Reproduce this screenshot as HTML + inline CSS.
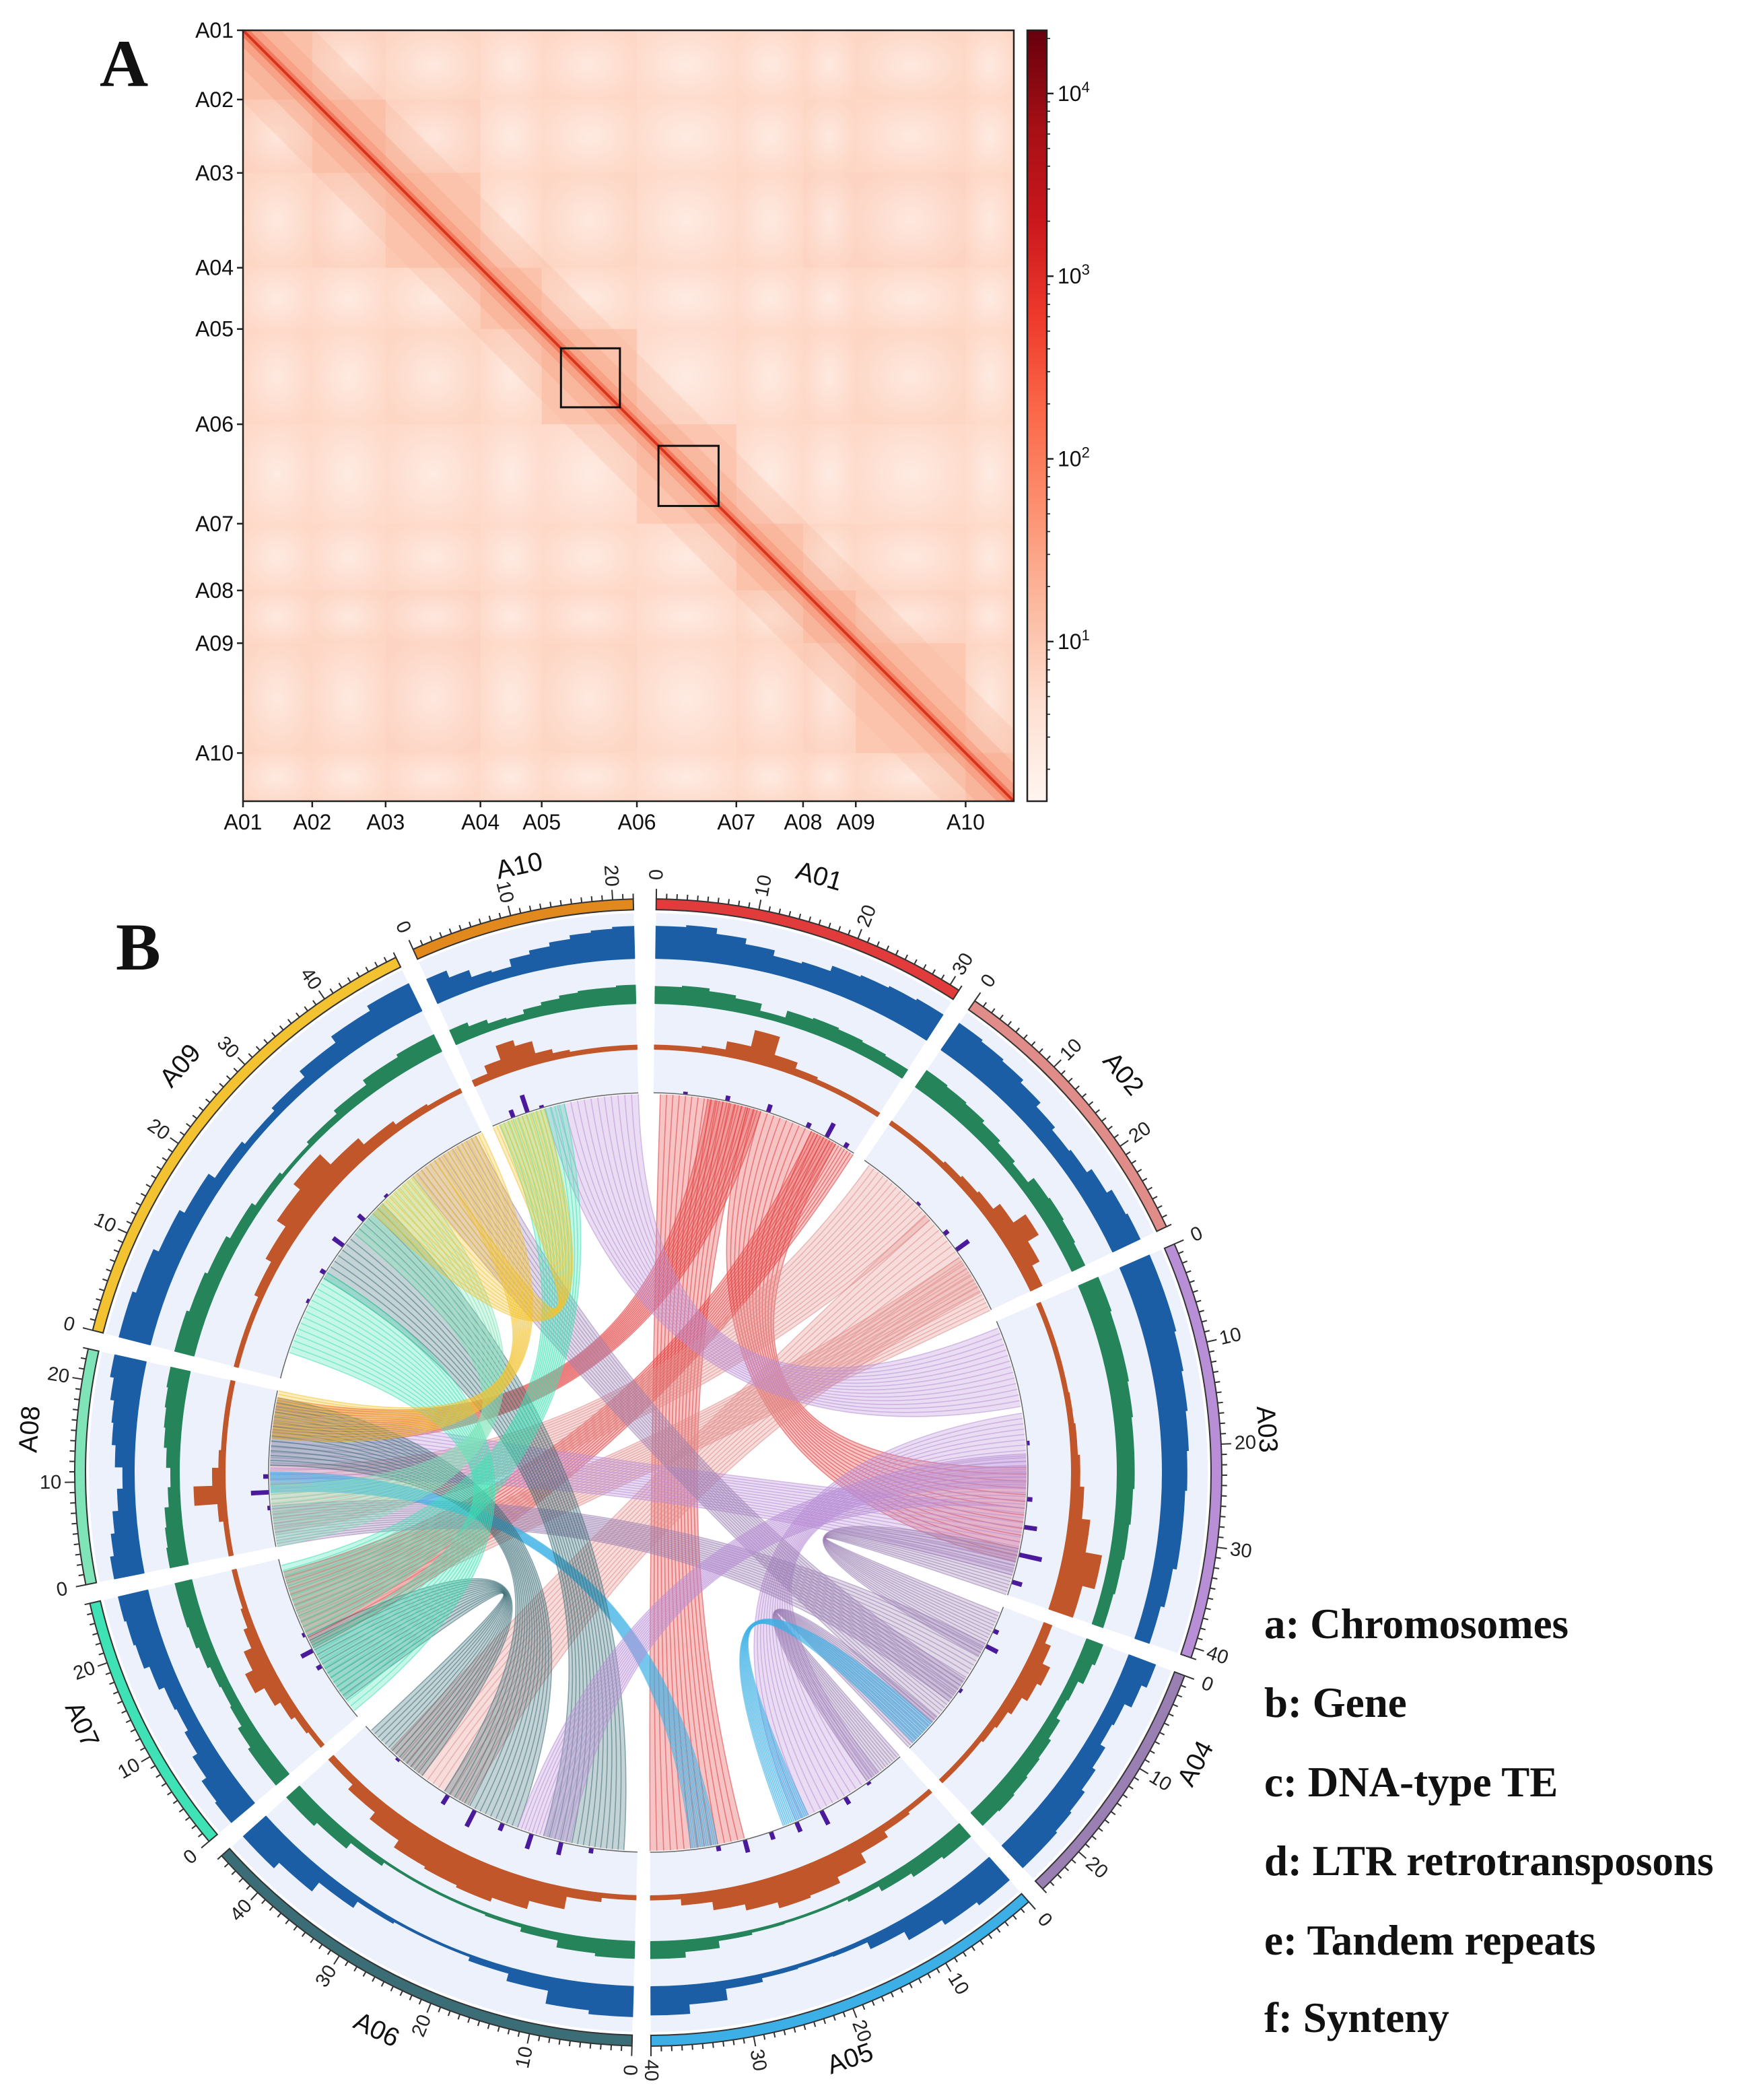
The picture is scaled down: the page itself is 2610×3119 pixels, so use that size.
<!DOCTYPE html>
<html><head><meta charset="utf-8">
<style>
html,body{margin:0;padding:0;background:#fff;}
svg{display:block;}
</style></head>
<body>
<svg id="chart" xmlns="http://www.w3.org/2000/svg" width="2610" height="3119" viewBox="0 0 2610 3119">
<defs>
  <radialGradient id="pillow" cx="0.5" cy="0.5" r="0.6">
    <stop offset="0" stop-color="#fff" stop-opacity="0.45"/>
    <stop offset="0.7" stop-color="#fff" stop-opacity="0.12"/>
    <stop offset="1" stop-color="#fff" stop-opacity="0"/>
  </radialGradient>
  <linearGradient id="cbgrad" x1="0" y1="1" x2="0" y2="0">
    <stop offset="0" stop-color="#fff5f0"/>
    <stop offset="0.125" stop-color="#fee0d2"/>
    <stop offset="0.25" stop-color="#fcbba1"/>
    <stop offset="0.375" stop-color="#fc9272"/>
    <stop offset="0.5" stop-color="#fb6a4a"/>
    <stop offset="0.625" stop-color="#ef3b2c"/>
    <stop offset="0.75" stop-color="#cb181d"/>
    <stop offset="0.875" stop-color="#a50f15"/>
    <stop offset="1" stop-color="#67000d"/>
  </linearGradient>
  <clipPath id="hmclip"><rect x="361" y="45" width="1145" height="1145"/></clipPath>
</defs>
<text x="148" y="128" font-family="Liberation Serif, serif" font-weight="bold" font-size="100" fill="#111">A</text>
<text x="172" y="1440" font-family="Liberation Serif, serif" font-weight="bold" font-size="100" fill="#111">B</text>
<g id="heat"></g>
<g id="cbar"></g>
<g id="circos"></g>
<g id="legend" font-family="Liberation Serif, serif" font-weight="bold" font-size="63" fill="#111">
  <text x="1878" y="2433">a: Chromosomes</text>
  <text x="1878" y="2550">b: Gene</text>
  <text x="1878" y="2668">c: DNA-type TE</text>
  <text x="1878" y="2785">d: LTR retrotransposons</text>
  <text x="1878" y="2903">e: Tandem repeats</text>
  <text x="1878" y="3018">f: Synteny</text>
</g>
</svg>
<script>
// ---------------- Heatmap data ----------------
const hmChroms = ['A01','A02','A03','A04','A05','A06','A07','A08','A09','A10'];
const hmStartFrac = [0, 0.0898, 0.185, 0.308, 0.3875, 0.511, 0.640, 0.7266, 0.795, 0.9375];
const hmLevels = [
 [1.05,0.85,0.80,0.75,0.78,0.74,0.76,0.78,0.80,0.77],
 [0.85,1.05,0.85,0.74,0.76,0.73,0.75,0.80,0.78,0.76],
 [0.80,0.85,1.00,0.76,0.80,0.74,0.77,0.82,0.82,0.78],
 [0.75,0.74,0.76,1.00,0.76,0.72,0.74,0.75,0.76,0.74],
 [0.78,0.76,0.80,0.76,1.00,0.72,0.76,0.78,0.80,0.76],
 [0.74,0.73,0.74,0.72,0.72,0.95,0.74,0.74,0.74,0.73],
 [0.76,0.75,0.77,0.74,0.76,0.74,1.00,0.80,0.78,0.76],
 [0.78,0.80,0.82,0.75,0.78,0.74,0.80,1.05,0.84,0.78],
 [0.80,0.78,0.82,0.76,0.80,0.74,0.78,0.84,1.00,0.80],
 [0.77,0.76,0.78,0.74,0.76,0.73,0.76,0.78,0.80,1.05]
];
const cbTickExp = [1, 2, 3, 4];
const cbTickLabels = ['10', '10', '10', '10'];
const cbTickSup = ['1', '2', '3', '4'];
const boxLo = [0.4125, 0.539];
const boxHi = [0.489, 0.617];

// ---------------- Circos data ----------------
const chrNames = ['A01','A02','A03','A04','A05','A06','A07','A08','A09','A10'];
const chrLen = [31, 29, 41, 25, 40, 45, 26, 23, 48, 22];
const chrColors = ['#e23b3b','#e08d8a','#b88ed6','#9a80b2','#3cb0e6','#3a6d76','#3fe2b4','#7fe4b8','#f2c230','#e2891e'];
const geneVals = [
 [.85,.9,.75,.6,.45,.5,.65,.7,.75,.8],
 [.85,.8,.75,.65,.5,.4,.45,.6,.75,.8],
 [.85,.85,.8,.75,.7,.65,.6,.6,.5,.4],
 [.75,.6,.4,.35,.5,.6,.7,.75,.8,.8],
 [.8,.7,.55,.3,.1,.08,.1,.2,.5,.75],
 [.8,.7,.35,.15,.05,.05,.1,.3,.6,.8],
 [.8,.75,.6,.45,.35,.4,.55,.7,.75,.8],
 [.8,.7,.6,.45,.3,.5,.6,.65,.75,.85],
 [.85,.75,.6,.45,.25,.15,.25,.45,.65,.8],
 [.7,.5,.3,.25,.45,.55,.65,.75,.8,.85]
];
const dnaVals = [
 [.6,.65,.55,.45,.2,.45,.5,.45,.4,.35],
 [.7,.65,.6,.5,.4,.3,.55,.6,.55,.5],
 [.75,.7,.7,.65,.6,.6,.55,.5,.45,.4],
 [.6,.5,.3,.25,.4,.5,.55,.6,.65,.6],
 [.6,.5,.35,.15,.05,.05,.08,.15,.4,.6],
 [.6,.5,.25,.1,.03,.03,.05,.2,.45,.6],
 [.6,.6,.5,.35,.3,.35,.45,.55,.6,.6],
 [.65,.6,.55,.4,.3,.45,.55,.6,.65,.7],
 [.7,.6,.5,.35,.2,.1,.2,.35,.55,.65],
 [.55,.4,.25,.2,.35,.45,.55,.6,.6,.65]
];
const ltrVals = [
 [.1,.1,.15,.35,.75,.3,.15,.1,.1,.1],
 [.1,.1,.1,.15,.2,.25,.45,.8,.5,.3],
 [.1,.1,.1,.12,.15,.2,.3,.5,.9,.6],
 [.2,.35,.55,.45,.3,.2,.15,.1,.1,.1],
 [.1,.15,.3,.55,.7,.75,.6,.45,.25,.1],
 [.1,.2,.5,.7,.8,.75,.7,.5,.3,.15],
 [.1,.15,.25,.4,.65,.45,.25,.15,.1,.1],
 [.1,.1,.2,.75,.3,.15,.1,.1,.1,.1],
 [.1,.1,.2,.35,.6,.8,.45,.25,.15,.1],
 [.15,.35,.7,.55,.25,.15,.1,.1,.1,.1]
];
const tandemVals = [
 [0,.1,0,.2,0,.3,0,.2,.6,.2],
 [0,0,0,.1,0,.2,.6,0,0,0],
 [0,0,0,0,.1,0,.2,.5,.9,.4],
 [0,.2,.5,0,0,.1,0,0,0,0],
 [0,.1,.3,.6,.4,.3,.5,.2,0,0],
 [0,.2,.5,.6,.3,.7,.4,0,.1,0],
 [0,0,0,.2,.5,.1,0,0,0,0],
 [0,0,.1,.7,.2,0,0,0,0,0],
 [0,0,.1,.2,.5,.3,.1,0,0,0],
 [0,.3,.7,.1,0,0,0,0,0,0]
];
const linkChrA   = [0, 0, 0, 0, 1, 1, 1, 2, 2, 2, 3, 3, 3, 3, 4, 4, 5, 5, 5, 6, 6, 7, 8, 8, 2];
const linkStartA = [1,14,24, 8, 1,12,20, 1,14,28, 1, 6,12,19,16,30, 2,18,34, 1,14, 0,28,40,20];
const linkEndA   = [14,28,31,16,13,26,29,13,25,38, 8,16,20,25,20,34,14,30,44,13,25, 9,40,48,28];
const linkChrB   = [4, 2, 6, 7, 7, 5, 6, 9, 4, 7, 2, 7, 8, 4, 3, 7, 8, 7, 6, 8, 9, 8, 9, 7, 5];
const linkStartB = [26,22,12,16, 2,26,14, 8, 4,10,34, 0,36, 0,20, 8,16,12, 3, 4, 1,24, 0,16,10];
const linkEndB   = [40,36,24,22,12,40,24,22,18,21,41, 6,47, 6,24,11,30,22,14,17,11,36, 8,23,18];

const NS = 'http://www.w3.org/2000/svg';
function mk(tag, attrs, parent) {
  const e = document.createElementNS(NS, tag);
  for (const k in attrs) e.setAttribute(k, attrs[k]);
  parent.appendChild(e);
  return e;
}
const REDS = ['#fff5f0','#fee0d2','#fcbba1','#fc9272','#fb6a4a','#ef3b2c','#cb181d','#a50f15','#67000d'];
function hex(c){return [parseInt(c.substr(1,2),16),parseInt(c.substr(3,2),16),parseInt(c.substr(5,2),16)];}
const VMIN = 0.126, VMAX = 4.346;
function redsColor(v) {
  let t = Math.max(0, Math.min(1, (v - VMIN) / (VMAX - VMIN)));
  const p = t * 8, i = Math.min(7, Math.floor(p)), f = p - i;
  const a = hex(REDS[i]), b = hex(REDS[i + 1]);
  return 'rgb(' + a.map((x, k) => Math.round(x + (b[k] - x) * f)).join(',') + ')';
}

// ---------------- Heatmap ----------------
const heat = document.getElementById('heat');
const HX = 361, HY = 45, HS = 1145;
function hx(f) { return HX + f * HS; }
function hy(f) { return HY + f * HS; }
const hmEnd = hmStartFrac.slice(1).concat([1]);
const hmCells = mk('g', {'clip-path': 'url(#hmclip)'}, heat);
for (let i = 0; i < 10; i++) {
  for (let j = 0; j < 10; j++) {
    const r = mk('rect', {x: hx(hmStartFrac[j]), y: hy(hmStartFrac[i]), width: hx(hmEnd[j]) - hx(hmStartFrac[j]) + 0.5, height: hy(hmEnd[i]) - hy(hmStartFrac[i]) + 0.5, fill: redsColor(hmLevels[i][j])}, hmCells);
    
    
    if (i !== j) {
      const p = mk('rect', {x: hx(hmStartFrac[j]), y: hy(hmStartFrac[i]), width: hx(hmEnd[j]) - hx(hmStartFrac[j]), height: hy(hmEnd[i]) - hy(hmStartFrac[i]), fill: 'url(#pillow)'}, hmCells);
      
      
    }
  }
}
[[150, '#f9b9a0', 0.3], [80, '#f7a083', 0.35], [36, '#f58c6c', 0.45], [14, '#f06a4a', 0.7], [4, '#d8331f', 1]].forEach(s => {
  const l = mk('line', {x1: hx(0), y1: hy(0), x2: hx(1), y2: hy(1), stroke: s[1], 'stroke-width': s[0], 'stroke-opacity': s[2]}, hmCells);
  
  
});
for (let k = 0; k < boxLo.length; k++) {
  const b = mk('rect', {x: hx(boxLo[k]), y: hy(boxLo[k]), width: hx(boxHi[k]) - hx(boxLo[k]), height: hy(boxHi[k]) - hy(boxLo[k]), fill: 'none', stroke: '#111', 'stroke-width': 3}, heat);
  
  
}
const frame = mk('rect', {x: HX, y: HY, width: HS, height: HS, fill: 'none', stroke: '#222', 'stroke-width': 2.5}, heat);


for (let i = 0; i < 10; i++) {
  const f = hmStartFrac[i];
  const t1 = mk('line', {x1: HX - 9, y1: hy(f), x2: HX, y2: hy(f), stroke: '#222', 'stroke-width': 2.5}, heat);
  
  
  const t2 = mk('line', {x1: hx(f), y1: HY + HS, x2: hx(f), y2: HY + HS + 9, stroke: '#222', 'stroke-width': 2.5}, heat);
  
  
  const yl = mk('text', {x: HX - 14, y: hy(f) + 11, 'text-anchor': 'end', 'font-family': 'Liberation Sans, sans-serif', 'font-size': 32, fill: '#111'}, heat);
  yl.textContent = hmChroms[i];
  
  
  const xl = mk('text', {x: hx(f), y: HY + HS + 42, 'text-anchor': 'middle', 'font-family': 'Liberation Sans, sans-serif', 'font-size': 32, fill: '#111'}, heat);
  xl.textContent = hmChroms[i];
  
  
}

// ---------------- Colorbar ----------------
const cbar = document.getElementById('cbar');
const CBX = 1526, CBW = 29;
function cbY(v) { return HY + HS - (v - VMIN) / (VMAX - VMIN) * HS; }
const cbr = mk('rect', {x: CBX, y: HY, width: CBW, height: HS, fill: 'url(#cbgrad)', stroke: '#222', 'stroke-width': 2.5}, cbar);


for (let e = 0; e <= 4; e++) {
  for (let m = 1; m <= 9; m++) {
    const v = e + Math.log10(m);
    if (v < VMIN || v > VMAX) continue;
    const major = m === 1;
    const t = mk('line', {x1: CBX + CBW, y1: cbY(v), x2: CBX + CBW + (major ? 10 : 5), y2: cbY(v), stroke: '#222', 'stroke-width': major ? 2.5 : 1.6}, cbar);
    
    
  }
}
for (let k = 0; k < cbTickExp.length; k++) {
  const t = mk('text', {x: CBX + CBW + 16, y: cbY(cbTickExp[k]) + 11, 'font-family': 'Liberation Sans, sans-serif', 'font-size': 32, fill: '#111'}, cbar);
  
  
  t.appendChild(document.createTextNode(cbTickLabels[k]));
  const s = mk('tspan', {dy: -13, 'font-size': 22}, t);
  s.textContent = cbTickSup[k];
}

// ---------------- Circos ----------------
const circ = document.getElementById('circos');
const CX = 963, CY = 2187;
const GAP = 1.9, START = 0.8;
const totalLen = chrLen.reduce((a, b) => a + b, 0);
const SCALE = (360 - 10 * GAP - START + 0.4) / totalLen;
const chrStart = [];
{ let a = START; for (let i = 0; i < 10; i++) { chrStart.push(a); a += chrLen[i] * SCALE + GAP; } }
function ang(c, pos) { return chrStart[c] + pos * SCALE; }
function pt(a, r) { const t = a * Math.PI / 180; return [CX + r * Math.sin(t), CY - r * Math.cos(t)]; }
function sector(a1, a2, r0, r1) {
  const p1 = pt(a1, r1), p2 = pt(a2, r1), p3 = pt(a2, r0), p4 = pt(a1, r0);
  const lg = (a2 - a1) > 180 ? 1 : 0;
  return 'M' + p1 + ' A' + r1 + ',' + r1 + ' 0 ' + lg + ' 1 ' + p2 + ' L' + p3 + ' A' + r0 + ',' + r0 + ' 0 ' + lg + ' 0 ' + p4 + ' Z';
}
const R_LINK = 564, R_BAND0 = 836, R_BAND1 = 852;
for (let c = 0; c < 10; c++) {
  const a1 = ang(c, 0), a2 = ang(c, chrLen[c]);
  const bg = mk('path', {d: sector(a1, a2, R_LINK, 831), fill: '#edf1fb'}, circ);
  
  
}
const tracks = [
  {vals: geneVals, r0: 764, h: 56, color: '#1b5ea6', name: 'gene'},
  {vals: dnaVals, r0: 697, h: 42, color: '#25845a', name: 'dna-te'},
  {vals: ltrVals, r0: 629, h: 62, color: '#c0562a', name: 'ltr'},
  {vals: tandemVals, r0: R_LINK, h: 38, color: '#4b1a9c', name: 'tandem'}
];
tracks.forEach(tr => {
  for (let c = 0; c < 10; c++) {
    const n = tr.vals[c].length, step = chrLen[c] / n;
    if (tr.name !== 'tandem') {
      const base = mk('path', {d: sector(ang(c, 0), ang(c, chrLen[c]), tr.r0 - 1, tr.r0 + 3), fill: tr.color}, circ);
      
      
    }
    for (let k = 0; k < n; k++) {
      const v = tr.vals[c][k];
      if (v <= 0) continue;
      const a1 = ang(c, k * step), a2 = ang(c, (k + 1) * step);
      const wid = tr.name === 'tandem' ? Math.min(a2 - a1, 0.6) : a2 - a1;
      const am = (a1 + a2) / 2;
      const s1 = tr.name === 'tandem' ? am - wid / 2 : a1, s2 = tr.name === 'tandem' ? am + wid / 2 : a2;
      const b = mk('path', {d: sector(s1, s2, tr.r0, tr.r0 + v * tr.h), fill: tr.color, stroke: tr.color, 'stroke-width': 0.8}, circ);
      
      
    }
  }
});
// links: translucent ribbon + fan of thin lines
const LINES_PER_LINK = 14;
for (let i = 0; i < linkChrA.length; i++) {
  const a1 = ang(linkChrA[i], linkStartA[i]), a2 = ang(linkChrA[i], linkEndA[i]);
  const b1 = ang(linkChrB[i], linkStartB[i]), b2 = ang(linkChrB[i], linkEndB[i]);
  const R = R_LINK - 2;
  const pa1 = pt(a1, R), pa2 = pt(a2, R), pb1 = pt(b1, R), pb2 = pt(b2, R);
  const d = 'M' + pa1 + ' A' + R + ',' + R + ' 0 0 1 ' + pa2 + ' Q' + CX + ',' + CY + ' ' + pb1 +
            ' A' + R + ',' + R + ' 0 0 1 ' + pb2 + ' Q' + CX + ',' + CY + ' ' + pa1 + ' Z';
  const col = chrColors[linkChrA[i]];
  const p = mk('path', {d: d, fill: col, 'fill-opacity': 0.3, stroke: 'none'}, circ);
  
  
  for (let k = 0; k <= LINES_PER_LINK; k++) {
    const f = k / LINES_PER_LINK;
    const s = pt(a1 + (a2 - a1) * f, R), e = pt(b2 - (b2 - b1) * f, R);
    const ln = mk('path', {d: 'M' + s + ' Q' + CX + ',' + CY + ' ' + e, fill: 'none', stroke: col, 'stroke-opacity': 0.55, 'stroke-width': 1.6}, circ);
    
    
  }
}
for (let c = 0; c < 10; c++) {
  const a1 = ang(c, 0), a2 = ang(c, chrLen[c]);
  const p1 = pt(a1, R_LINK), p2 = pt(a2, R_LINK);
  const lc = mk('path', {d: 'M' + p1 + ' A' + R_LINK + ',' + R_LINK + ' 0 0 1 ' + p2, fill: 'none', stroke: '#666', 'stroke-width': 1.5}, circ);
  
  
  const band = mk('path', {d: sector(a1, a2, R_BAND0, R_BAND1), fill: chrColors[c], stroke: '#333', 'stroke-width': 2}, circ);
  
  
  for (let m = 0; m <= chrLen[c]; m++) {
    const major = m % 10 === 0;
    const a = ang(c, m);
    const q1 = pt(a, R_BAND1), q2 = pt(a, R_BAND1 + (major ? 15 : 8));
    const t = mk('line', {x1: q1[0], y1: q1[1], x2: q2[0], y2: q2[1], stroke: '#333', 'stroke-width': 2}, circ);
    
    
    if (major) {
      const lp = pt(a, R_BAND1 + 36);
      let an = ((a % 360) + 360) % 360;
      const rot = an <= 180 ? an - 90 : an + 90;
      const tl = mk('text', {x: lp[0], y: lp[1], 'text-anchor': 'middle', 'dominant-baseline': 'central', 'font-family': 'Liberation Sans, sans-serif', 'font-size': 29, fill: '#222', transform: 'rotate(' + rot + ' ' + lp[0] + ' ' + lp[1] + ')'}, circ);
      tl.textContent = String(m);
      
      
    }
  }
}
const labelAngles = [16, 50, 86, 118, 161, 206, 246, 274, 311, 348];
for (let c = 0; c < 10; c++) {
  const a = labelAngles[c];
  const lp = pt(a, 921);
  let an = a > 180 ? a - 360 : a;
  const rot = Math.abs(an) <= 90 ? an : an - 180;
  const t = mk('text', {x: lp[0], y: lp[1], 'text-anchor': 'middle', 'dominant-baseline': 'central', 'font-family': 'Liberation Sans, sans-serif', 'font-size': 39, fill: '#111', transform: 'rotate(' + rot + ' ' + lp[0] + ' ' + lp[1] + ')'}, circ);
  t.textContent = chrNames[c];
  
  
}
</script>
</body></html>
